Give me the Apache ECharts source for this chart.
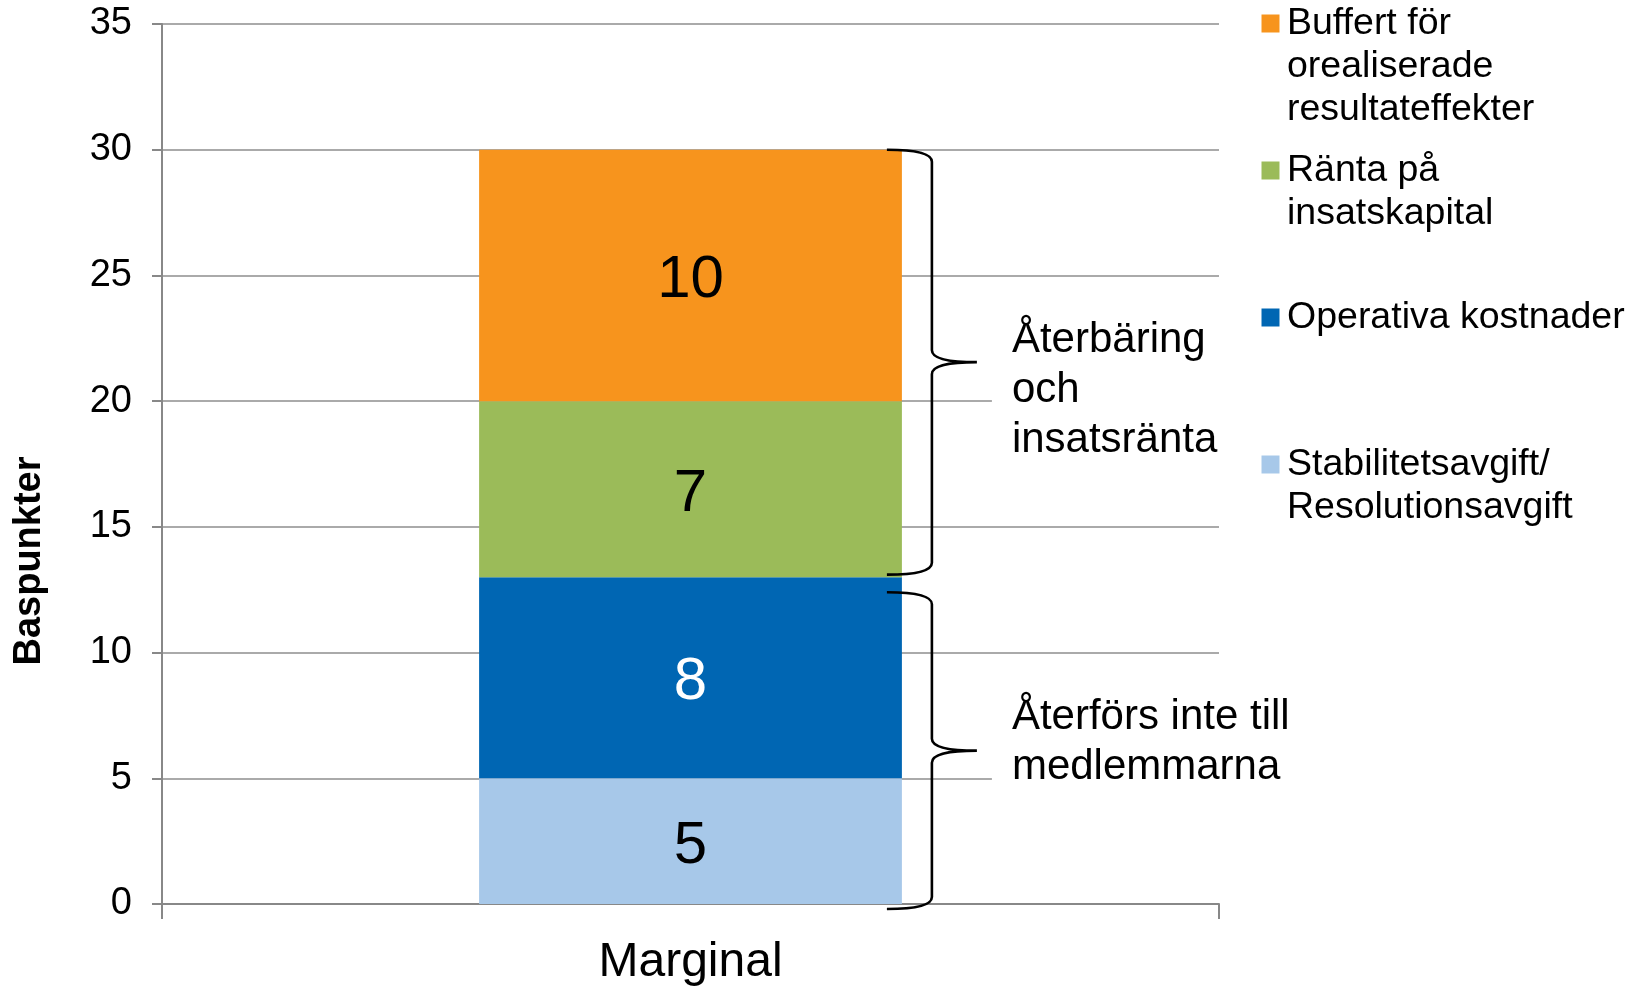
<!DOCTYPE html>
<html>
<head>
<meta charset="utf-8">
<script src="https://cdn.jsdelivr.net/npm/echarts@6/dist/echarts.min.js"></script>
<style>
  html, body { margin: 0; padding: 0; background: #fff; }
  #main { width: 1640px; height: 987px; }
</style>
</head>
<body>
<div id="main"></div>
<script>
// data
var categories = ['Marginal'];
var seriesNames = ['Stabilitetsavgift/\nResolutionsavgift', 'Operativa kostnader', 'Ränta på\ninsatskapital', 'Buffert för\norealiserade\nresultateffekter'];
var seriesValues = [[5], [8], [7], [10]];
var seriesColors = ['#A7C8E9', '#0066B3', '#9BBB59', '#F7941D'];
var labelColors = ['#000', '#fff', '#000', '#000'];
var yTicks = { min: 0, max: 35, interval: 5 };

// braces on the right: low, high, where the text sits
var braceLow = [13.1, -0.2];
var braceHigh = [30, 12.4];
var braceTextAt = [20.42, 6.42];
var braceTexts = ['Återbäring\noch\ninsatsränta', 'Återförs inte till\nmedlemmarna'];

// legend rows (icon centre y) - top to bottom
var legendOrder = [3, 2, 1, 0];
var legendIconY = [23.5, 170.5, 317.5, 464.5];

var FONT = '"Liberation Sans", Arial, sans-serif';
var myChart = echarts.init(document.getElementById('main'));

var series = [];
for (var i = 0; i < seriesNames.length; i++) {
    series.push({
        name: seriesNames[i],
        type: 'bar',
        stack: 'total',
        barWidth: '40%',
        itemStyle: { color: seriesColors[i] },
        label: {
            show: true,
            position: 'inside',
            offset: [0, 5],
            color: labelColors[i],
            fontSize: 60,
            fontFamily: FONT
        },
        data: seriesValues[i]
    });
}

var braceData = [];
for (var b = 0; b < braceLow.length; b++) {
    braceData.push([0, braceLow[b], braceHigh[b], braceTextAt[b]]);
}

function renderBrace(params, api) {
    var cat = api.value(0);
    var top = api.coord([cat, api.value(2)]);
    var bottom = api.coord([cat, api.value(1)]);
    var textY = api.coord([cat, api.value(3)])[1];
    var barRight = top[0] + api.size([1, 0])[0] * 0.2;
    var xs = barRight - 15, xv = barRight + 30, xt = barRight + 75;
    var yT = top[1], yB = bottom[1], yM = (yT + yB) / 2, r = 12;
    var d = 'M' + xs + ',' + yT +
        ' Q' + xv + ',' + yT + ' ' + xv + ',' + (yT + r) +
        ' L' + xv + ',' + (yM - r) +
        ' Q' + xv + ',' + yM + ' ' + xt + ',' + yM +
        ' M' + xt + ',' + yM +
        ' Q' + xv + ',' + yM + ' ' + xv + ',' + (yM + r) +
        ' L' + xv + ',' + (yB - r) +
        ' Q' + xv + ',' + yB + ' ' + xs + ',' + yB;
    return {
        type: 'group',
        children: [{
            type: 'path',
            shape: { pathData: d },
            style: { fill: 'none', stroke: '#000', lineWidth: 2.6 }
        }, {
            type: 'text',
            x: barRight + 90,
            y: textY,
            style: {
                text: braceTexts[params.dataIndex],
                fill: '#000',
                font: '42px ' + FONT,
                lineHeight: 50,
                align: 'left',
                verticalAlign: 'middle',
                backgroundColor: '#fff',
                padding: [4, 10, 4, 20]
            }
        }]
    };
}

series.push({
    name: 'braces',
    type: 'custom',
    clip: false,
    silent: true,
    renderItem: renderBrace,
    encode: { x: 0, y: [1, 2] },
    data: braceData,
    z: 5
});

// one legend per row; empty lines on top keep the icon on the first text line
var legends = [];
for (var k = 0; k < legendOrder.length; k++) {
    var idx = legendOrder[k];
    var lines = seriesNames[idx].split('\n').length;
    legends.push({
        data: [seriesNames[idx]],
        left: 1261.5,
        top: legendIconY[k] - 21.5 - 43 * (lines - 1),
        padding: 0,
        icon: 'path://M0,0h18v18h-18z',
        itemWidth: 23,
        itemHeight: 18,
        selectedMode: false,
        formatter: (function (n) {
            return function (name) {
                return new Array(n).join('\n') + name;
            };
        })(lines),
        textStyle: {
            fontSize: 37.5,
            fontFamily: FONT,
            color: '#000',
            lineHeight: 43
        }
    });
}

option = {
    animation: false,
    backgroundColor: '#fff',
    grid: { left: 162, right: 421, top: 24, bottom: 83 },
    legend: legends,
    xAxis: {
        type: 'category',
        data: categories,
        axisLine: { lineStyle: { color: '#888', width: 2 } },
        axisTick: { show: true, length: 15, lineStyle: { color: '#888', width: 2 } },
        axisLabel: { fontSize: 48, fontFamily: FONT, color: '#000', margin: 35 }
    },
    yAxis: {
        type: 'value',
        min: yTicks.min,
        max: yTicks.max,
        interval: yTicks.interval,
        name: '{t|Baspunkter}',
        nameLocation: 'middle',
        nameGap: 113,
        nameTextStyle: {
            rich: {
                t: { fontSize: 38, fontWeight: 'bold', fontFamily: FONT, color: '#000', padding: [0, 194, 0, 0] }
            }
        },
        axisLine: { show: true, lineStyle: { color: '#888', width: 2 } },
        axisTick: { show: true, length: 10, lineStyle: { color: '#888', width: 2 } },
        axisLabel: { fontSize: 38, fontFamily: FONT, color: '#000', margin: 30 },
        splitLine: { lineStyle: { color: '#8e8e8e', width: 1.5 } }
    },
    series: series
};
myChart.setOption(option);
window.addEventListener("resize", function () {
    myChart.resize();
});
</script>
</body>
</html>
